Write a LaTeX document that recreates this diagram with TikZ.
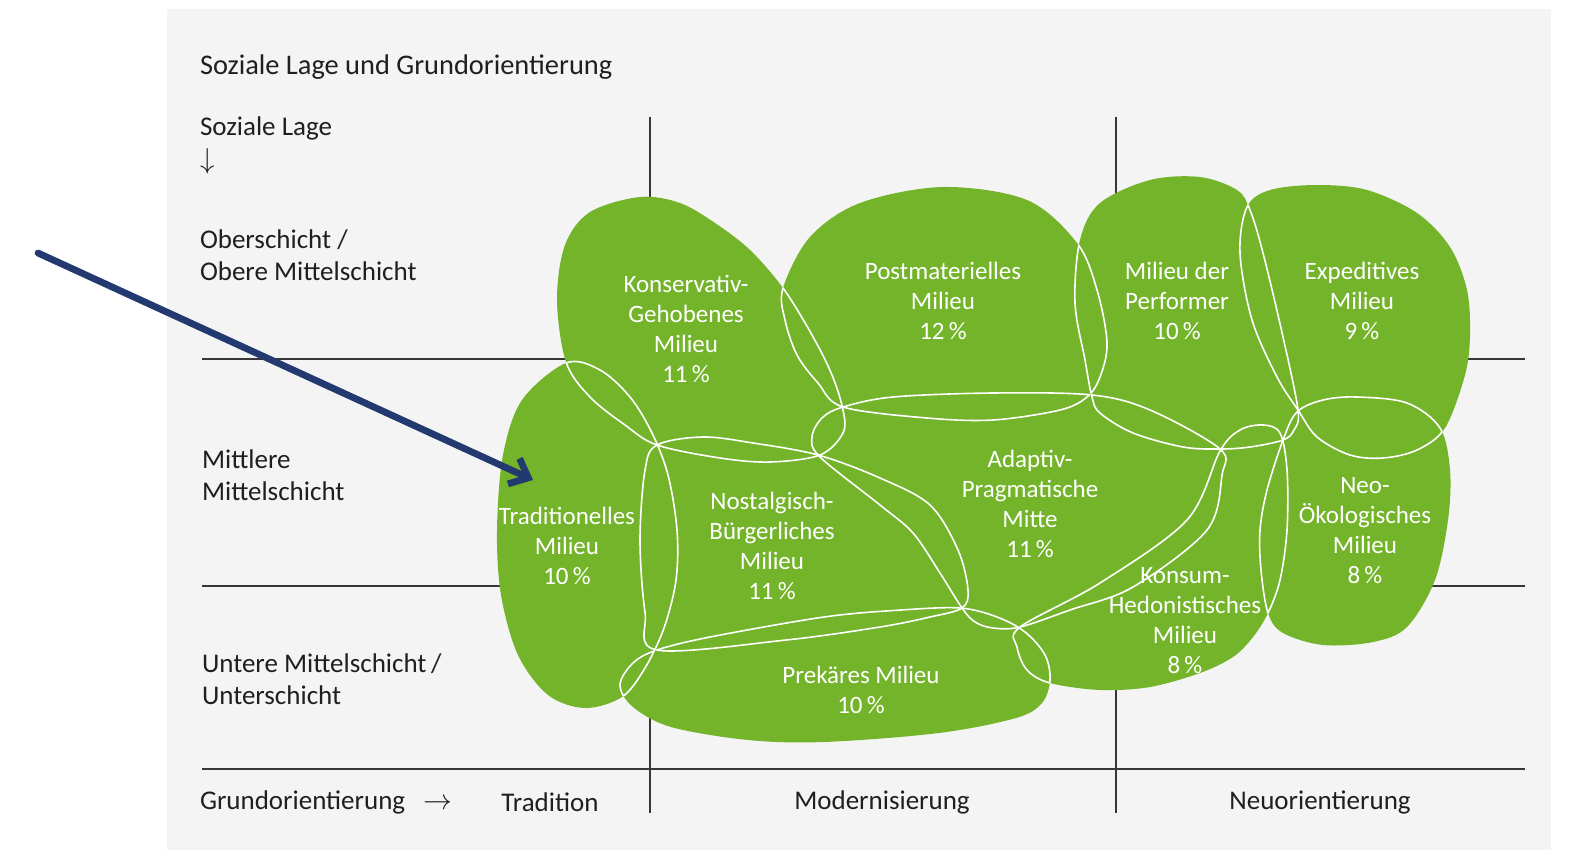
\documentclass[tikz,border=0pt]{standalone}
\usepackage{fontspec}
\setmainfont{Carlito}
\usepackage{tikz}
\usetikzlibrary{arrows.meta}
\definecolor{milieugreen}{RGB}{116,180,42}
\definecolor{panelgray}{RGB}{244,244,244}
\definecolor{pointerblue}{RGB}{35,58,112}
\definecolor{gridgray}{RGB}{55,55,55}
\tikzset{
	every node/.style={inner sep=0pt, outer sep=0pt},
	axis text/.style={
		font=\fontsize{13.5}{16}\selectfont,
		text=black!88,
		align=left,
		anchor=west},
	milieu text/.style={
		font=\fontsize{12.5}{15}\selectfont,
		text=white,
		align=center},
	milieu fill/.style={fill=milieugreen},
	milieu line/.style={draw=white, line width=0.8pt},
	grid line/.style={draw=gridgray, line width=0.8pt},
	pointer/.style={
		draw=pointerblue,
		line width=3.4pt,
		line cap=round,
		-{Straight Barb[length=8pt,width=14pt]}}
}
% outlines of the milieus (pixel coordinates, y downwards)
\newcommand\blobKG{plot[smooth cycle, tension=0.55] coordinates {(557,300) (565,245) (590,212) (640,197) (680,203) (715,223) (750,250) (783,288) (812,335) (832,375) (843,410) (843,433) (820,455) (770,462) (720,458) (657,445) (625,425) (590,397) (566,362)}}
\newcommand\blobTR{plot[smooth cycle, tension=0.55] coordinates {(566,363) (600,370) (630,397) (652,433) (668,475) (677,530) (676,580) (664,628) (645,668) (622,697) (585,708) (548,695) (518,655) (501,595) (497,530) (503,455) (522,400)}}
\newcommand\blobNB{plot[smooth cycle, tension=0.55] coordinates {(657,445) (703,437) (753,443) (818,455) (880,478) (930,505) (958,550) (968,590) (962,608) (930,617) (880,627) (786,640) (657,650) (645,612) (640,540) (645,470)}}
\newcommand\blobPR{plot[smooth cycle, tension=0.55] coordinates {(657,650) (710,637) (824,617) (901,610) (960,608) (997,617) (1025,632) (1045,655) (1050,680) (1042,703) (1016,718) (939,733) (824,742) (748,740) (671,727) (633,707) (620,685) (633,663)}}
\newcommand\blobAP{plot[smooth cycle, tension=0.55] coordinates {(843,407) (893,397) (993,393) (1092,395) (1150,410) (1220,449) (1222,475) (1207,530) (1133,587) (1070,610) (1020,627) (993,628) (975,622) (962,608) (940,573) (913,533) (880,505) (820,457) (812,437) (822,418)}}
\newcommand\blobPM{plot[smooth cycle, tension=0.55] coordinates {(783,288) (810,237) (860,203) (943,187) (1027,200) (1077,243) (1097,290) (1107,343) (1100,377) (1087,397) (1060,410) (993,420) (927,418) (843,407) (818,383) (797,355) (785,320)}}
\newcommand\blobPF{plot[smooth cycle, tension=0.55] coordinates {(1092,397) (1085,360) (1075,303) (1080,240) (1100,203) (1150,180) (1200,177) (1237,190) (1250,210) (1263,253) (1283,337) (1298,410) (1294,430) (1283,440) (1250,447) (1220,449) (1183,447) (1133,433) (1100,413)}}
\newcommand\blobEX{plot[smooth cycle, tension=0.55] coordinates {(1247,207) (1270,190) (1317,185) (1367,190) (1417,213) (1450,247) (1467,290) (1470,335) (1465,375) (1445,428) (1417,450) (1383,458) (1350,455) (1317,437) (1298,410) (1277,377) (1252,320) (1240,253)}}
\newcommand\blobNO{plot[smooth cycle, tension=0.55] coordinates {(1283,440) (1297,412) (1323,400) (1357,397) (1407,403) (1440,428) (1450,470) (1448,520) (1435,580) (1407,627) (1373,642) (1323,645) (1283,633) (1268,613) (1261,570) (1260,530) (1267,490)}}
\newcommand\blobKH{plot[smooth cycle, tension=0.55] coordinates {(1020,627) (1100,583) (1187,520) (1220,451) (1240,430) (1263,425) (1280,433) (1287,470) (1287,530) (1280,580) (1268,613) (1253,637) (1233,657) (1200,673) (1150,687) (1100,690) (1050,683) (1027,670) (1017,647)}}

\begin{document}
\begin{tikzpicture}[x=0.5pt, y=-0.5pt]
	\useasboundingbox (0,0) rectangle (1572,850);
	\fill[panelgray] (167,9) rectangle (1551,850);
	
	% grid
	\draw[grid line] (202,359) -- (1525,359);
	\draw[grid line] (202,586) -- (1525,586);
	\draw[grid line] (202,769) -- (1525,769);
	\draw[grid line] (650,117) -- (650,813);
	\draw[grid line] (1116,117) -- (1116,813);
	
	% milieus
	\foreach \m in {KG,TR,NB,PR,AP,PM,PF,EX,NO,KH}{
		\expandafter\let\expandafter\milieuarea\csname blob\m\endcsname
		\fill[milieu fill] \milieuarea;
	}
	\foreach \a in {KG,TR,NB,PR,AP,PM,PF,EX,NO,KH}{
		\foreach \b in {KG,TR,NB,PR,AP,PM,PF,EX,NO,KH}{
			\ifx\a\b\else
			\begin{scope}
				\expandafter\let\expandafter\cliparea\csname blob\b\endcsname
				\expandafter\let\expandafter\edgeline\csname blob\a\endcsname
				\clip \cliparea;
				\draw[milieu line] \edgeline;
			\end{scope}
			\fi
		}
	}
	
	% axis labels
	\node[axis text, font=\fontsize{14.2}{16}\selectfont] (title) at (200,67) {Soziale Lage und Grundorientierung};
	\node[axis text] (lage) at (200,128) {Soziale Lage};
	\node[axis text] (lagearrow) at (200,161) {$\downarrow$};
	\node[axis text] (ober) at (200,255) {Oberschicht /\\Obere Mittelschicht};
	\node[axis text] (mitte) at (202,475) {Mittlere\\Mittelschicht};
	\node[axis text] (unter) at (202,679) {Untere Mittelschicht\,/\\Unterschicht};
	\node[axis text] (grund) at (200,802) {Grundorientierung\hspace{9pt}$\rightarrow$};
	\node[axis text, anchor=center] (tradition) at (550,802) {Tradition};
	\node[axis text, anchor=center] (modern) at (882,802) {Modernisierung};
	\node[axis text, anchor=center] (neu) at (1320,802) {Neuorientierung};
	
	% milieu labels
	\node[milieu text] (kg) at (686,329) {Konservativ-\\Gehobenes\\Milieu\\11\,\%};
	\node[milieu text] (pm) at (943,301) {Postmaterielles\\Milieu\\12\,\%};
	\node[milieu text] (pf) at (1177,301) {Milieu der\\Performer\\10\,\%};
	\node[milieu text] (ex) at (1362,301) {Expeditives\\Milieu\\9\,\%};
	\node[milieu text] (tr) at (567,546) {Traditionelles\\Milieu\\10\,\%};
	\node[milieu text] (nb) at (772,546) {Nostalgisch-\\Bürgerliches\\Milieu\\11\,\%};
	\node[milieu text] (ap) at (1030,504) {Adaptiv-\\Pragmatische\\Mitte\\11\,\%};
	\node[milieu text] (no) at (1365,531) {Neo-\\Ökologisches\\Milieu\\8\,\%};
	\node[milieu text] (kh) at (1185,621) {Konsum-\\Hedonistisches\\Milieu\\8\,\%};
	\node[milieu text] (pr) at (861,690) {Prekäres Milieu\\10\,\%};
	
	% pointer
	\coordinate (ptrstart) at (38,253);
	\coordinate (ptrtip) at (533,480);
	\draw[pointer] (ptrstart) -- (ptrtip);
\end{tikzpicture}
\end{document}
